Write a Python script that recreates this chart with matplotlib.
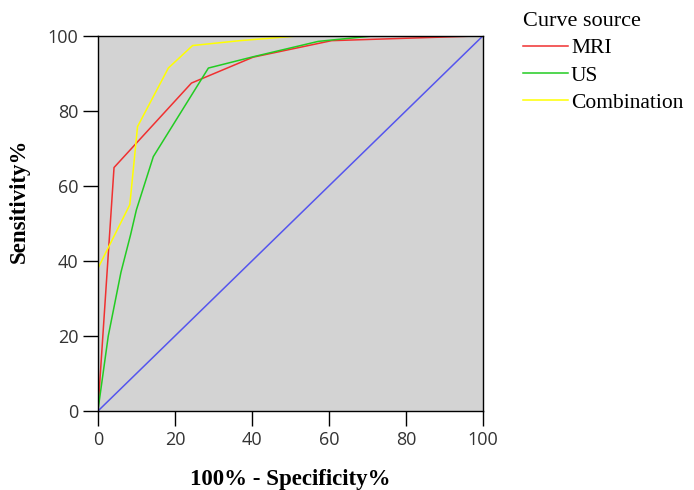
import matplotlib.pyplot as plt

# ROC curve points (100% - specificity, sensitivity)
mri_x = [0, 4.2, 24.3, 40.3, 60.7, 100]
mri_y = [0, 64.9, 87.4, 94.3, 98.7, 100]

us_x = [0, 2.7, 6.0, 8.5, 10.0, 14.4, 28.7, 40.3, 57.2, 62.0, 72.0, 100]
us_y = [0, 20.0, 37.0, 47.0, 53.6, 67.8, 91.4, 94.4, 98.5, 99.0, 100, 100]

comb_x = [0, 0, 8.3, 10.3, 18.3, 24.6, 36.9, 52.5, 100]
comb_y = [0, 38.0, 55.0, 75.8, 91.4, 97.4, 98.7, 100, 100]

ref_x = [0, 100]
ref_y = [0, 100]

ticks = [0, 20, 40, 60, 80, 100]

fig = plt.figure(figsize=(6.94, 4.9), dpi=100)
ax = fig.add_axes([0.141, 0.161, 0.555, 0.766])
ax.set_facecolor('#D3D3D3')

ax.plot(ref_x, ref_y, color='#5555EE', linewidth=1.1)
l1, = ax.plot(mri_x, mri_y, color='#F03030', linewidth=1.1, label='MRI')
l2, = ax.plot(us_x, us_y, color='#22CC22', linewidth=1.1, label='US')
l3, = ax.plot(comb_x, comb_y, color='#FFFF00', linewidth=1.1, label='Combination')

ax.set_xlim(0, 100)
ax.set_ylim(0, 100)
ax.set_xticks(ticks)
ax.set_yticks(ticks)
ax.tick_params(direction='out', length=11, width=1, labelsize=13, pad=3)
for lab in ax.get_xticklabels() + ax.get_yticklabels():
    lab.set_family('Open Sans')
    lab.set_color('#333333')
for s in ax.spines.values():
    s.set_linewidth(1)

ax.set_xlabel('100% - Specificity%', family='Liberation Serif', fontweight='bold',
              fontsize=16.5)
ax.set_ylabel('Sensitivity%', family='Liberation Serif', fontweight='bold',
              fontsize=16.5)
ax.xaxis.set_label_coords(0.499, -0.181)
ax.yaxis.set_label_coords(-0.203, 0.56)
ax.xaxis.label.set_va('center')
ax.yaxis.label.set_va('center')

leg = fig.legend(handles=[l1, l2, l3], title='Curve source', loc='upper left',
                 bbox_to_anchor=(0.753, 0.975), frameon=False,
                 prop={'family': 'Liberation Serif', 'size': 15.5},
                 title_fontproperties={'family': 'Liberation Serif', 'size': 16},
                 handlelength=2.1, handletextpad=0.15, labelspacing=0.33,
                 borderaxespad=0, borderpad=0)
leg._legend_box.align = 'left'

fig.savefig('out.png', dpi=100)
